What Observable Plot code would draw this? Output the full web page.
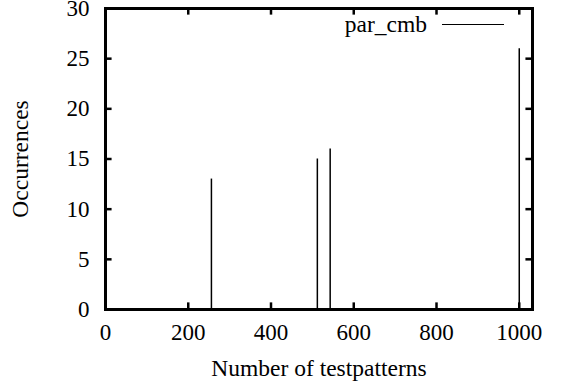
<!DOCTYPE html>
<html>
<head>
<meta charset="utf-8">
<script src="https://cdn.jsdelivr.net/npm/d3@7"></script>
<script src="https://cdn.jsdelivr.net/npm/@observablehq/plot@0.6"></script>
<style>
  html, body { margin: 0; padding: 0; background: #fff; }
  #chart { position: relative; width: 572px; height: 390px; }
  #chart svg text { font-family: "Liberation Serif", "Times New Roman", serif !important; }
  #legend { position: absolute; top: 10px; left: 0; width: 572px; height: 30px;
            font-family: "Liberation Serif", "Times New Roman", serif; font-size: 23.5px; color: #000; }
  #legend .lbl { position: absolute; right: 145px; top: 0; line-height: 28px; }
  #legend .sw { position: absolute; left: 442px; width: 62px; top: 14px; border-top: 1.5px solid #000; }
</style>
</head>
<body>
<div id="chart"></div>
<script>
const series = "par_cmb";
const testpatterns = [256, 512, 543, 1000];
const occurrences = [13, 15, 16, 26];
const xTicks = [0, 200, 400, 600, 800, 1000];
const yTicks = [0, 5, 10, 15, 20, 25, 30];

const data = testpatterns.map((x, i) => ({x, y: occurrences[i]}));
const font = `"Liberation Serif", "Times New Roman", serif`;
const xDomain = [0, 1032], yDomain = [0, 30];
const tickFrac = 0.022;
const xLen = (xDomain[1] - xDomain[0]) * tickFrac * 0.7;
const yLen = (yDomain[1] - yDomain[0]) * tickFrac;

const plot = Plot.plot({
  width: 572,
  height: 390,
  marginLeft: 105,
  marginRight: 40,
  marginTop: 8,
  marginBottom: 81,
  style: {fontFamily: font, fontSize: "23px", color: "#000", background: "#fff"},
  x: {domain: xDomain},
  y: {domain: yDomain},
  marks: [
    Plot.frame({stroke: "#000", strokeWidth: 3, fill: "none"}),
    Plot.ruleX(data, {x: "x", y: "y", stroke: "#000", strokeWidth: 1.5}),
    Plot.ruleX(xTicks, {x: d => d, y1: yDomain[0], y2: yDomain[0] + yLen, stroke: "#000", strokeWidth: 2.5}),
    Plot.ruleX(xTicks, {x: d => d, y1: yDomain[1], y2: yDomain[1] - yLen, stroke: "#000", strokeWidth: 2.5}),
    Plot.ruleY(yTicks, {y: d => d, x1: xDomain[0], x2: xDomain[0] + xLen, stroke: "#000", strokeWidth: 2.5}),
    Plot.ruleY(yTicks, {y: d => d, x1: xDomain[1], x2: xDomain[1] - xLen, stroke: "#000", strokeWidth: 2.5}),
    Plot.axisX({ticks: xTicks, tickSize: 0, tickPadding: 14, tickFormat: d3.format("d"),
                fontFamily: font, fontSize: 23,
                label: null}),
    Plot.axisX({ticks: [], tickSize: 0, fontFamily: font, fontSize: 23.5,
                label: "Number of testpatterns", labelArrow: "none", labelAnchor: "center", labelOffset: 66}),
    Plot.axisY({ticks: yTicks, tickSize: 0, tickPadding: 16, tickFormat: d3.format("d"),
                fontFamily: font, fontSize: 23,
                label: null}),
    Plot.axisY({ticks: [], tickSize: 0, fontFamily: font, fontSize: 23.5,
                label: "Occurrences", labelArrow: "none", labelAnchor: "center", labelOffset: 94})
  ]
});
document.getElementById("chart").appendChild(plot);

const legend = document.createElement("div");
legend.id = "legend";
legend.innerHTML = `<span class="lbl"></span><span class="sw"></span>`;
legend.querySelector(".lbl").textContent = series;
document.getElementById("chart").appendChild(legend);
</script>
</body>
</html>
